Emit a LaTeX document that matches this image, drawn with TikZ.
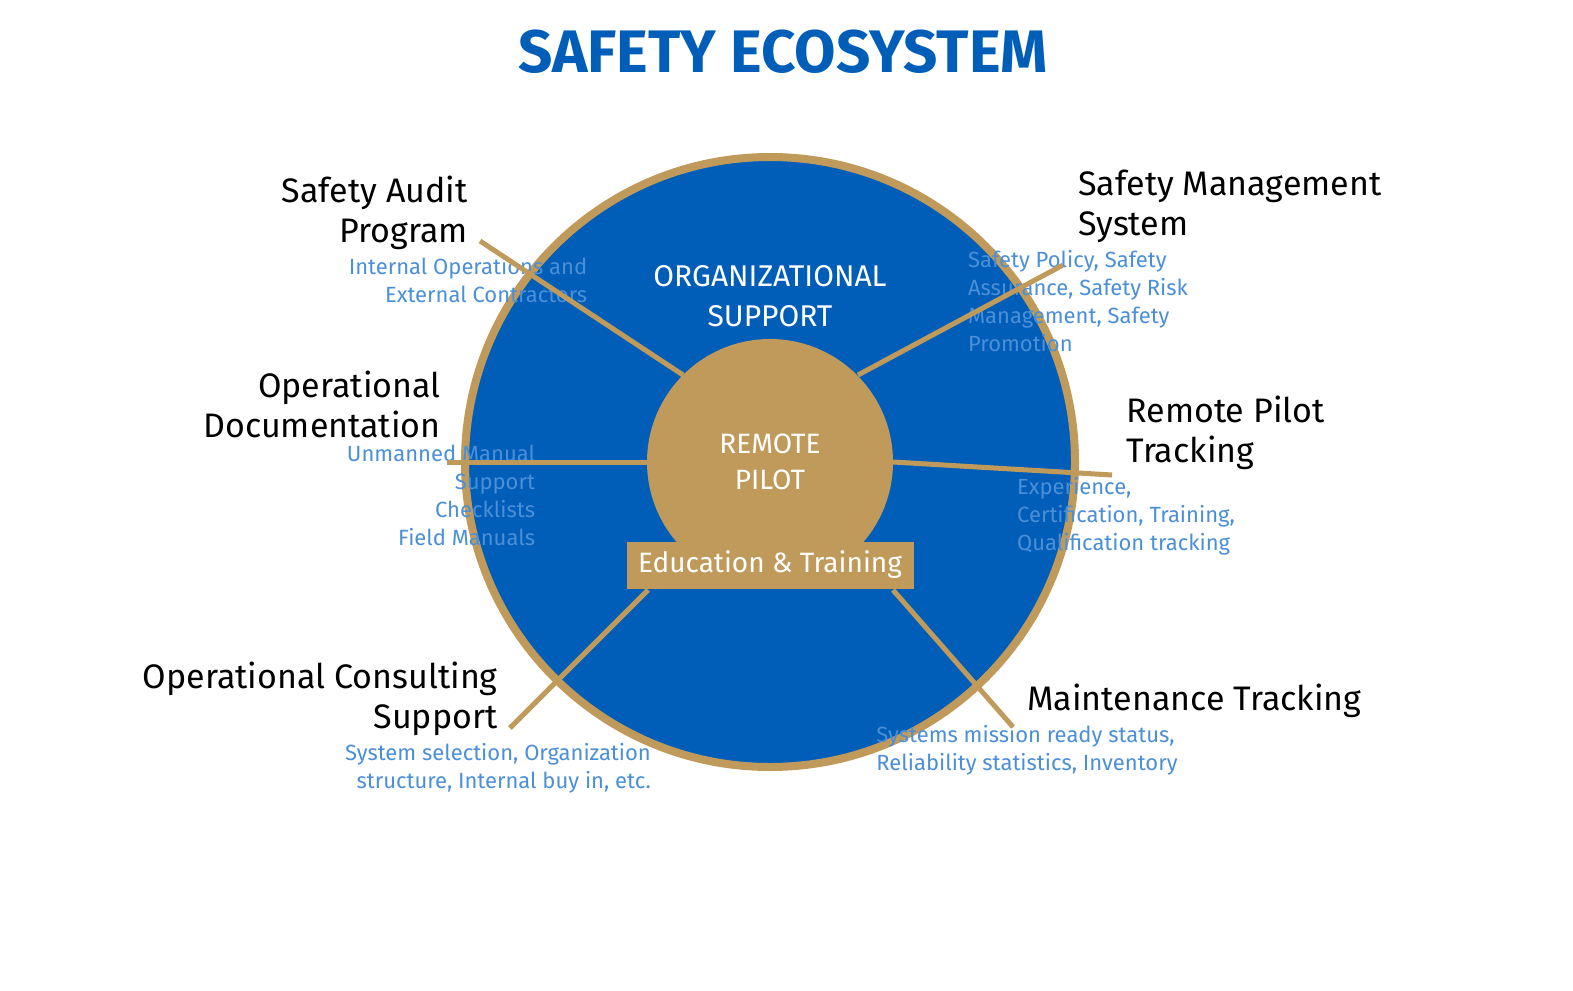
\documentclass[tikz,border=0pt]{standalone}
\usepackage{fontspec}
\setmainfont{Fira Sans}
\usetikzlibrary{positioning}
\definecolor{ecoblue}{HTML}{005EB8}
\definecolor{ecogold}{HTML}{C09A5B}
\definecolor{ecolight}{HTML}{4A8FD8}
\tikzset{
  head/.style={font=\fontsize{17}{20}\selectfont, inner sep=0pt},
  sub/.style={font=\fontsize{11}{14}\selectfont, text=ecolight, inner sep=0pt},
  spoke/.style={draw=ecogold, line width=2.5pt},
  inlabel/.style={text=white, font=\fontsize{15}{20}\selectfont, align=center}
}
\begin{document}
\begin{tikzpicture}[x=0.5pt,y=-0.5pt]
    \useasboundingbox (0,0) rectangle (1573,990);

    % title
    \node[text=ecoblue, font=\fontsize{30}{34}\selectfont\bfseries] (title) at (783,52) {SAFETY ECOSYSTEM};

    % rings
    \node[circle, fill=ecoblue, draw=ecogold, line width=4pt, minimum size=610*0.5pt] (outer) at (770,462) {};
    \node[circle, fill=ecogold, minimum size=246*0.5pt] (inner) at (770,462) {};
    \node[inlabel] (org) at (770,296) {ORGANIZATIONAL\\SUPPORT};
    \node[inlabel, font=\fontsize{14}{18}\selectfont] (pilot) at (770,462) {REMOTE\\PILOT};
    \node[fill=ecogold, text=white, minimum width=287*0.5pt, minimum height=47*0.5pt, font=\fontsize{14}{16}\selectfont] (edu) at (770,565) {Education \& Training};

    % left labels
    \node[head, anchor=north east, align=right] (audit) at (468,176) {Safety Audit\\Program};
    \node[sub, anchor=north east, align=right, below=3pt of audit.south east] (auditsub) {Internal Operations and\\External Contractors};
    \node[head, anchor=north east, align=right] (doc) at (441,371) {Operational\\Documentation};
    \node[sub, anchor=north east, align=right, below=3pt of doc.south east] (docsub) {Unmanned Manual\\Support\\Checklists\\Field Manuals};
    \node[head, anchor=north east, align=right] (consult) at (498,662) {Operational Consulting\\Support};
    \node[sub, anchor=north east, align=right, below=3pt of consult.south east] (consultsub) {System selection, Organization\\structure, Internal buy in, etc.};

    % right labels
    \node[head, anchor=north west, align=left] (sms) at (1078,170) {Safety Management\\System};
    \node[sub, anchor=north west, align=left, below=3pt of sms.south west] (smssub) {Safety Policy, Safety\\Assurance, Safety Risk\\Management, Safety\\Promotion};
    \node[head, anchor=north west, align=left] (track) at (1126,396) {Remote Pilot\\Tracking};
    \node[sub, anchor=north west, align=left, below=3pt of track.south west] (tracksub) {Experience,\\Certification, Training,\\Qualification tracking};
    \node[head, anchor=north west, align=left] (maint) at (1027,684) {Maintenance Tracking};
    \node[sub, anchor=north west, align=left, below=3pt of maint.south west] (maintsub) {Systems mission ready status,\\Reliability statistics, Inventory};

    % spoke ends
    \coordinate (a1) at (480,241);
    \coordinate (a2) at (447,462);
    \coordinate (a3) at (510,728);
    \coordinate (b1) at (1063,265);
    \coordinate (b2) at (1112,475);
    \coordinate (b3) at (1013,727);
    \coordinate (i1) at (683,375);
    \coordinate (i2) at (648,462);
    \coordinate (i3) at (648,590);
    \coordinate (j1) at (858,375);
    \coordinate (j2) at (893,462);
    \coordinate (j3) at (893,590);

    \draw[spoke] (a1) -- (i1);
    \draw[spoke] (a2) -- (i2);
    \draw[spoke] (a3) -- (i3);
    \draw[spoke] (b1) -- (j1);
    \draw[spoke] (b2) -- (j2);
    \draw[spoke] (b3) -- (j3);
\end{tikzpicture}
\end{document}
